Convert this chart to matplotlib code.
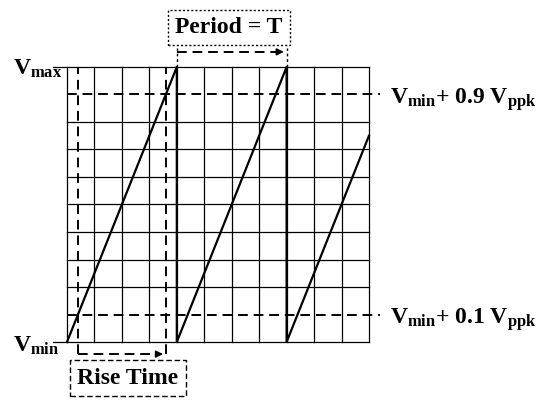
import matplotlib.pyplot as plt

plt.rcParams['font.family'] = 'Liberation Serif'
plt.rcParams['font.weight'] = 'bold'
plt.rcParams['mathtext.fontset'] = 'custom'
plt.rcParams['mathtext.rm'] = 'Liberation Serif:bold'
plt.rcParams['mathtext.it'] = 'Liberation Serif:bold'
plt.rcParams['mathtext.bf'] = 'Liberation Serif:bold'

# sawtooth, time in grid divisions, voltage in grid divisions
saw_t = [0, 4, 4, 8, 8, 11]
saw_v = [0, 10, 0, 10, 0, 7.5]

n_cols = 11
n_rows = 10
levels = [1, 9]            # Vmin + 0.1 Vppk, Vmin + 0.9 Vppk
rise_t = [0.4, 3.6]        # 10% -> 90% crossing times
period_t = [4, 8]          # two successive peaks

level_labels = [r"$V_{min}$+ 0.1 $V_{ppk}$", r"$V_{min}$+ 0.9 $V_{ppk}$"]

# pixel scale of one division (figure is 550 x 403 px)
sx, sy = 27.45, 27.5
x0, y0 = 67, 342

fig = plt.figure(figsize=(5.5, 4.03), dpi=100)
ax = fig.add_axes([0, 0, 1, 1])
ax.set_xlim(-x0 / sx, (550 - x0) / sx)
ax.set_ylim((y0 - 403) / sy, y0 / sy)
ax.axis('off')

dash = (0, (5, 3))

# grid
for c in range(n_cols + 1):
    ax.plot([c, c], [0, n_rows], color='black', lw=0.9)
for r in range(n_rows + 1):
    if r in levels:
        continue
    left = -0.5 if r in (0, n_rows) else 0
    ax.plot([left, n_cols], [r, r], color='black', lw=0.9)

# 10% / 90% levels
for lv, lab in zip(levels, level_labels):
    ax.plot([0, n_cols + 0.4], [lv, lv], color='black', lw=1.4, ls=dash)
    ax.text(n_cols + 0.77, lv - 0.33, lab, fontsize=17, ha='left', va='baseline')

# waveform
ax.plot(saw_t, saw_v, color='black', lw=1.6)

# rise time markers
for t in rise_t:
    ax.plot([t, t], [-0.45, n_rows], color='black', lw=1.4, ls=dash)
ry = -0.44
ax.plot([rise_t[0], rise_t[1] - 0.2], [ry, ry], color='black', lw=1.4, ls=dash)
ax.annotate('', xy=(rise_t[1], ry), xytext=(rise_t[1] - 0.35, ry),
            arrowprops=dict(arrowstyle='-|>', color='black', lw=1.2,
                            mutation_scale=10))

# period markers
py = 10.55
for t in period_t:
    ax.plot([t, t], [n_rows, py + 0.15], color='black', lw=1, ls=(0, (2, 2)))
ax.plot([period_t[0], period_t[1] - 0.2], [py, py], color='black', lw=1.4, ls=dash)
ax.annotate('', xy=(period_t[1], py), xytext=(period_t[1] - 0.35, py),
            arrowprops=dict(arrowstyle='-|>', color='black', lw=1.2,
                            mutation_scale=10))

ax.text(5.9, 11.45, "Period = T", fontsize=17, ha='center', va='center',
        bbox=dict(boxstyle='square,pad=0.3', fc='white', ec='black',
                  lw=1, ls=(0, (1.5, 1.5))))
ax.text(2.22, -1.31, "Rise Time", fontsize=17, ha='center', va='center',
        bbox=dict(boxstyle='square,pad=0.3', fc='white', ec='black',
                  lw=1, ls=(0, (4, 2))))

# Vmax / Vmin labels
ax.text(-1.97, 9.71, r"$V_{max}$", fontsize=17, ha='left', va='baseline')
ax.text(-1.97, -0.36, r"$V_{min}$", fontsize=17, ha='left', va='baseline')

fig.savefig('out.png', dpi=100)
